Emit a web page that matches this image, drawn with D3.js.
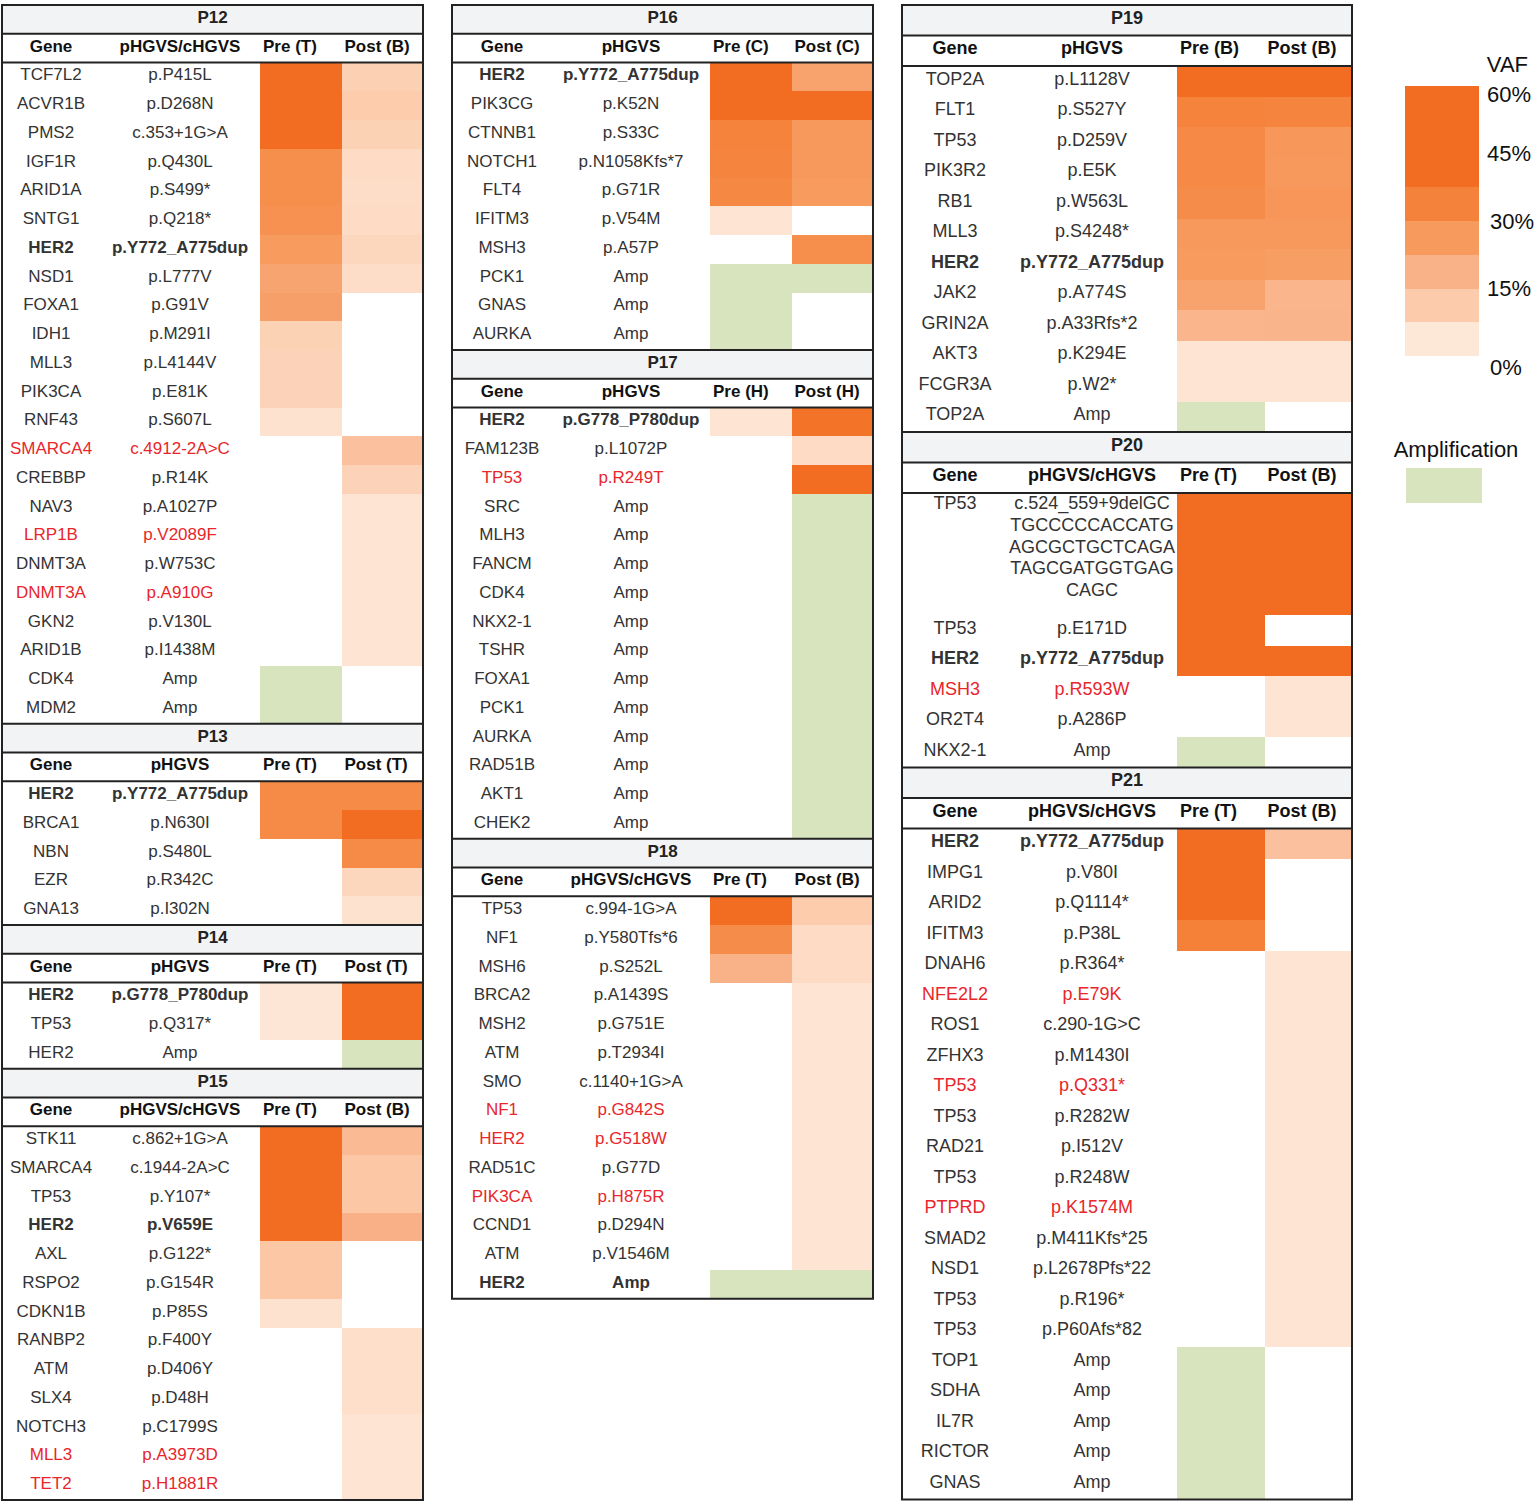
<!DOCTYPE html>
<html>
<head>
<meta charset="utf-8">
<script src="https://cdn.jsdelivr.net/npm/d3@7"></script>
<style>
  body { margin: 0; background: #fff; }
  text { font-family: 'Liberation Sans', Arial, Helvetica, sans-serif; }
</style>
</head>
<body>
<div id="chart"></div>
<script>
const AMP = 'amp'

// rows: [gene, pHGVS/cHGVS, pre VAF %, post VAF %, style (b bold, r red), units]
const p12 = [
  ['TCF7L2', 'p.P415L', 50, 10],
  ['ACVR1B', 'p.D268N', 50, 11],
  ['PMS2', 'c.353+1G>A', 50, 9.5],
  ['IGF1R', 'p.Q430L', 30, 7],
  ['ARID1A', 'p.S499*', 30, 6.5],
  ['SNTG1', 'p.Q218*', 29, 7],
  ['HER2', 'p.Y772_A775dup', 26, 8, 'b'],
  ['NSD1', 'p.L777V', 23, 6.5],
  ['FOXA1', 'p.G91V', 24.5, null],
  ['IDH1', 'p.M291I', 9.5, null],
  ['MLL3', 'p.L4144V', 9, null],
  ['PIK3CA', 'p.E81K', 9, null],
  ['RNF43', 'p.S607L', 5, null],
  ['SMARCA4', 'c.4912-2A>C', null, 14, 'r'],
  ['CREBBP', 'p.R14K', null, 9],
  ['NAV3', 'p.A1027P', null, 4.5],
  ['LRP1B', 'p.V2089F', null, 4.5, 'r'],
  ['DNMT3A', 'p.W753C', null, 4.5],
  ['DNMT3A', 'p.A910G', null, 4.5, 'r'],
  ['GKN2', 'p.V130L', null, 4.5],
  ['ARID1B', 'p.I1438M', null, 4.5],
  ['CDK4', 'Amp', AMP, null],
  ['MDM2', 'Amp', AMP, null]
]

const p13 = [
  ['HER2', 'p.Y772_A775dup', 31, 31, 'b'],
  ['BRCA1', 'p.N630I', 31, 46],
  ['NBN', 'p.S480L', null, 31],
  ['EZR', 'p.R342C', null, 8],
  ['GNA13', 'p.I302N', null, 5]
]

const p14 = [
  ['HER2', 'p.G778_P780dup', 4, 47, 'b'],
  ['TP53', 'p.Q317*', 4, 46],
  ['HER2', 'Amp', null, AMP]
]

const p15 = [
  ['STK11', 'c.862+1G>A', 50, 16],
  ['SMARCA4', 'c.1944-2A>C', 50, 12.5],
  ['TP53', 'p.Y107*', 50, 12.5],
  ['HER2', 'p.V659E', 50, 19, 'b'],
  ['AXL', 'p.G122*', 12.5, null],
  ['RSPO2', 'p.G154R', 12.5, null],
  ['CDKN1B', 'p.P85S', 5, null],
  ['RANBP2', 'p.F400Y', null, 6],
  ['ATM', 'p.D406Y', null, 6],
  ['SLX4', 'p.D48H', null, 6],
  ['NOTCH3', 'p.C1799S', null, 4.5],
  ['MLL3', 'p.A3973D', null, 4.5, 'r'],
  ['TET2', 'p.H1881R', null, 4.5, 'r']
]

const p16 = [
  ['HER2', 'p.Y772_A775dup', 48, 23.5, 'b'],
  ['PIK3CG', 'p.K52N', 48, 47],
  ['CTNNB1', 'p.S33C', 33.5, 26.5],
  ['NOTCH1', 'p.N1058Kfs*7', 33, 26.5],
  ['FLT4', 'p.G71R', 32, 26],
  ['IFITM3', 'p.V54M', 4.5, null],
  ['MSH3', 'p.A57P', null, 30],
  ['PCK1', 'Amp', AMP, AMP],
  ['GNAS', 'Amp', AMP, null],
  ['AURKA', 'Amp', AMP, null]
]

const p17 = [
  ['HER2', 'p.G778_P780dup', 4.5, 39, 'b'],
  ['FAM123B', 'p.L1072P', null, 7],
  ['TP53', 'p.R249T', null, 46, 'r'],
  ['SRC', 'Amp', null, AMP],
  ['MLH3', 'Amp', null, AMP],
  ['FANCM', 'Amp', null, AMP],
  ['CDK4', 'Amp', null, AMP],
  ['NKX2-1', 'Amp', null, AMP],
  ['TSHR', 'Amp', null, AMP],
  ['FOXA1', 'Amp', null, AMP],
  ['PCK1', 'Amp', null, AMP],
  ['AURKA', 'Amp', null, AMP],
  ['RAD51B', 'Amp', null, AMP],
  ['AKT1', 'Amp', null, AMP],
  ['CHEK2', 'Amp', null, AMP]
]

const p18 = [
  ['TP53', 'c.994-1G>A', 47, 11],
  ['NF1', 'p.Y580Tfs*6', 30.5, 7],
  ['MSH6', 'p.S252L', 18.5, 7],
  ['BRCA2', 'p.A1439S', null, 4.5],
  ['MSH2', 'p.G751E', null, 4.5],
  ['ATM', 'p.T2934I', null, 4.5],
  ['SMO', 'c.1140+1G>A', null, 4.5],
  ['NF1', 'p.G842S', null, 4.5, 'r'],
  ['HER2', 'p.G518W', null, 4.5, 'r'],
  ['RAD51C', 'p.G77D', null, 4.5],
  ['PIK3CA', 'p.H875R', null, 4.5, 'r'],
  ['CCND1', 'p.D294N', null, 4.5],
  ['ATM', 'p.V1546M', null, 4.5],
  ['HER2', 'Amp', AMP, AMP, 'b']
]

const p19 = [
  ['TOP2A', 'p.L1128V', 47, 47],
  ['FLT1', 'p.S527Y', 33.5, 33],
  ['TP53', 'p.D259V', 31.5, 27],
  ['PIK3R2', 'p.E5K', 31.5, 26.5],
  ['RB1', 'p.W563L', 30.5, 27.5],
  ['MLL3', 'p.S4248*', 26.5, 26.5],
  ['HER2', 'p.Y772_A775dup', 26, 25, 'b'],
  ['JAK2', 'p.A774S', 23.5, 17.5],
  ['GRIN2A', 'p.A33Rfs*2', 17.5, 18],
  ['AKT3', 'p.K294E', 4.5, 4.5],
  ['FCGR3A', 'p.W2*', 4.5, 4.5],
  ['TOP2A', 'Amp', AMP, null]
]

const p20 = [
  ['TP53', 'c.524_559+9delGC\nTGCCCCCACCATG\nAGCGCTGCTCAGA\nTAGCGATGGTGAG\nCAGC', 48, 48, '', 4],
  ['TP53', 'p.E171D', 48, null],
  ['HER2', 'p.Y772_A775dup', 48, 48, 'b'],
  ['MSH3', 'p.R593W', null, 4.5, 'r'],
  ['OR2T4', 'p.A286P', null, 4.5],
  ['NKX2-1', 'Amp', AMP, null]
]

const p21 = [
  ['HER2', 'p.Y772_A775dup', 48, 14, 'b'],
  ['IMPG1', 'p.V80I', 48, null],
  ['ARID2', 'p.Q1114*', 48, null],
  ['IFITM3', 'p.P38L', 34, null],
  ['DNAH6', 'p.R364*', null, 4.5],
  ['NFE2L2', 'p.E79K', null, 4.5, 'r'],
  ['ROS1', 'c.290-1G>C', null, 4.5],
  ['ZFHX3', 'p.M1430I', null, 4.5],
  ['TP53', 'p.Q331*', null, 4.5, 'r'],
  ['TP53', 'p.R282W', null, 4.5],
  ['RAD21', 'p.I512V', null, 4.5],
  ['TP53', 'p.R248W', null, 4.5],
  ['PTPRD', 'p.K1574M', null, 4.5, 'r'],
  ['SMAD2', 'p.M411Kfs*25', null, 4.5],
  ['NSD1', 'p.L2678Pfs*22', null, 4.5],
  ['TP53', 'p.R196*', null, 4.5],
  ['TP53', 'p.P60Afs*82', null, 4.5],
  ['TOP1', 'Amp', AMP, null],
  ['SDHA', 'Amp', AMP, null],
  ['IL7R', 'Amp', AMP, null],
  ['RICTOR', 'Amp', AMP, null],
  ['GNAS', 'Amp', AMP, null]
]

const panels = [
  { name: 'P12', col: 0, head: ['Gene', 'pHGVS/cHGVS', 'Pre (T)', 'Post (B)'], rows: p12 },
  { name: 'P13', col: 0, head: ['Gene', 'pHGVS', 'Pre (T)', 'Post (T)'], rows: p13 },
  { name: 'P14', col: 0, head: ['Gene', 'pHGVS', 'Pre (T)', 'Post (T)'], rows: p14 },
  { name: 'P15', col: 0, head: ['Gene', 'pHGVS/cHGVS', 'Pre (T)', 'Post (B)'], rows: p15 },
  { name: 'P16', col: 1, head: ['Gene', 'pHGVS', 'Pre (C)', 'Post (C)'], rows: p16 },
  { name: 'P17', col: 1, head: ['Gene', 'pHGVS', 'Pre (H)', 'Post (H)'], rows: p17 },
  { name: 'P18', col: 1, head: ['Gene', 'pHGVS/cHGVS', 'Pre (T)', 'Post (B)'], rows: p18 },
  { name: 'P19', col: 2, head: ['Gene', 'pHGVS', 'Pre (B)', 'Post (B)'], rows: p19 },
  { name: 'P20', col: 2, head: ['Gene', 'pHGVS/cHGVS', 'Pre (T)', 'Post (B)'], rows: p20 },
  { name: 'P21', col: 2, head: ['Gene', 'pHGVS/cHGVS', 'Pre (T)', 'Post (B)'], rows: p21 }
]

const vafTicks = [60, 45, 30, 15, 0]
const vafBins = [0, 7.5, 15, 22.5, 30, 37.5, 60]

// layout
const columnsLayout = [
  { left: 2, right: 423, gene: 51, hgvs: 180, pre: 260, unit: 28.75, font: 17 },
  { left: 452, right: 873, gene: 502, hgvs: 631, pre: 710, unit: 28.75, font: 17 },
  { left: 902, right: 1352, gene: 955, hgvs: 1092, pre: 1177, unit: 30.5, font: 18 }
]
const topY = 5
const ampColor = '#d8e4bd'
const lineColor = '#222'
const redText = '#e8262b'
const textDy = '0.2em'

const color = d3
  .scaleLinear()
  .domain([3.75, 11.25, 18.75, 26.25, 33.75, 41.25])
  .range(['#fde7d7', '#fccbab', '#f9b187', '#f79a5e', '#f5823a', '#f26c22'])
  .clamp(true)

const svg = d3
  .select('#chart')
  .append('svg')
  .attr('width', 1535)
  .attr('height', 1507)

const cellFill = (v) => (v === AMP ? ampColor : color(v))

columnsLayout.forEach((lay, ci) => {
  const colPanels = panels.filter((p) => p.col === ci)
  const rowUnits = (r) => r[5] || 1
  const totalUnits = d3.sum(colPanels, (p) => 2 + d3.sum(p.rows, rowUnits))

  const y = d3
    .scaleLinear()
    .domain([0, totalUnits])
    .range([topY, topY + totalUnits * lay.unit])

  const x = d3
    .scaleBand()
    .domain(['pre', 'post'])
    .range([lay.pre, lay.right])
    .padding(0)

  const g = svg.append('g').attr('font-size', lay.font)

  let u = 0
  colPanels.forEach((p) => {
    // title row
    g.append('rect')
      .attr('x', lay.left)
      .attr('y', y(u))
      .attr('width', lay.right - lay.left)
      .attr('height', y(u + 1) - y(u))
      .attr('fill', '#f2f3f5')

    g.append('text')
      .attr('x', (lay.left + lay.right) / 2)
      .attr('y', (y(u) + y(u + 1)) / 2)
      .attr('dy', textDy)
      .attr('text-anchor', 'middle')
      .attr('font-weight', 'bold')
      .attr('fill', '#222')
      .text(p.name)

    // header row
    const hy = (y(u + 1) + y(u + 2)) / 2
    const headPos = [
      [lay.gene, 'middle'],
      [lay.hgvs, 'middle'],
      [x('pre') + 3, 'start'],
      [x('post') + 3, 'start']
    ]
    g.selectAll(null)
      .data(p.head)
      .join('text')
      .attr('x', (d, i) => headPos[i][0])
      .attr('y', hy)
      .attr('dy', textDy)
      .attr('text-anchor', (d, i) => headPos[i][1])
      .attr('font-weight', 'bold')
      .attr('fill', '#111')
      .text((d) => d)

    const lineYs = [y(u), y(u + 1), y(u + 2)]

    u += 2
    p.rows.forEach((r) => {
      const [gene, hgvs, pre, post, style] = r
      const n = rowUnits(r)
      const y0 = y(u)
      const y1 = y(u + n)

      const cells = [
        ['pre', pre],
        ['post', post]
      ].filter((c) => c[1] !== null && c[1] !== undefined)

      g.selectAll(null)
        .data(cells)
        .join('rect')
        .attr('x', (d) => x(d[0]))
        .attr('y', y0)
        .attr('width', x.bandwidth())
        .attr('height', y1 - y0)
        .attr('fill', (d) => cellFill(d[1]))
        .attr('shape-rendering', 'crispEdges')

      const fill = style === 'r' ? redText : '#333'
      const weight = style === 'b' ? 'bold' : 'normal'
      const lines = hgvs.split('\n')
      const multi = lines.length > 1
      const ty = multi ? y0 + 12.5 : (y0 + y1) / 2

      g.append('text')
        .attr('x', lay.gene)
        .attr('y', ty)
        .attr('dy', textDy)
        .attr('text-anchor', 'middle')
        .attr('fill', fill)
        .attr('font-weight', weight)
        .text(gene)

      const t = g
        .append('text')
        .attr('text-anchor', 'middle')
        .attr('fill', fill)
        .attr('font-weight', weight)

      t.selectAll('tspan')
        .data(lines)
        .join('tspan')
        .attr('x', lay.hgvs)
        .attr('y', (d, i) => ty + i * 21.7)
        .attr('dy', textDy)
        .text((d) => d)

      u += n
    })

    g.selectAll(null)
      .data(lineYs)
      .join('line')
      .attr('x1', lay.left)
      .attr('x2', lay.right)
      .attr('y1', (d) => d)
      .attr('y2', (d) => d)
      .attr('stroke', lineColor)
      .attr('stroke-width', 2)
  })

  g.append('rect')
    .attr('x', lay.left)
    .attr('y', topY)
    .attr('width', lay.right - lay.left)
    .attr('height', y(totalUnits) - topY)
    .attr('fill', 'none')
    .attr('stroke', lineColor)
    .attr('stroke-width', 2)
})

// legend
const legend = svg.append('g').attr('font-size', 22).attr('fill', '#111')

const ly = d3.scaleLinear().domain([60, 0]).range([86, 356])

legend
  .append('text')
  .attr('x', 1528)
  .attr('y', 64)
  .attr('dy', '0.35em')
  .attr('text-anchor', 'end')
  .text('VAF')

const binPairs = d3.pairs(vafBins)
legend
  .selectAll('.bin')
  .data(binPairs)
  .join('rect')
  .attr('class', 'bin')
  .attr('x', 1405)
  .attr('width', 74)
  .attr('y', (d) => ly(d[1]))
  .attr('height', (d) => ly(d[0]) - ly(d[1]))
  .attr('fill', (d) => color(d[1] === 60 ? 45 : (d[0] + d[1]) / 2))
  .attr('shape-rendering', 'crispEdges')

legend
  .selectAll('.tick')
  .data(vafTicks)
  .join('text')
  .attr('class', 'tick')
  .attr('x', (d) => (d === 30 || d === 0 ? 1490 : 1487))
  .attr('y', (d) => ly(d) + (d === 60 ? 8 : d === 0 ? 11 : 0))
  .attr('dy', '0.35em')
  .text((d) => d + '%')

legend
  .append('text')
  .attr('x', 1456)
  .attr('y', 449)
  .attr('dy', '0.35em')
  .attr('text-anchor', 'middle')
  .text('Amplification')

legend
  .append('rect')
  .attr('x', 1406)
  .attr('y', 468)
  .attr('width', 76)
  .attr('height', 35)
  .attr('fill', ampColor)
</script>
</body>
</html>
